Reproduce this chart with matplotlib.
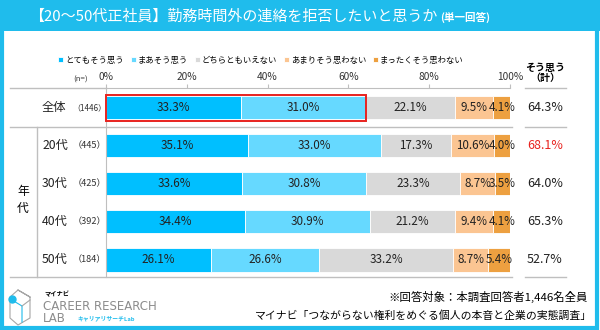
import matplotlib
matplotlib.use("Agg")
import matplotlib.pyplot as plt
from matplotlib.patches import Rectangle
from matplotlib.lines import Line2D
import numpy as np

plt.rcParams['font.family'] = ['Noto Sans CJK JP', 'DejaVu Sans']

# data
groups = ['全体', '20代', '30代', '40代', '50代']
counts = ['（1446）', '（445）', '（425）', '（392）', '（184）']
series_names = ['とてもそう思う', 'まあそう思う', 'どちらともいえない', 'あまりそう思わない', 'まったくそう思わない']
very = [33.3, 35.1, 33.6, 34.4, 26.1]
somewhat = [31.0, 33.0, 30.8, 30.9, 26.6]
neutral = [22.1, 17.3, 23.3, 21.2, 33.2]
not_much = [9.5, 10.6, 8.7, 9.4, 8.7]
not_at_all = [4.1, 4.0, 3.5, 4.1, 5.4]
agree_total = [64.3, 68.1, 64.0, 65.3, 52.7]
x_ticks = [0, 20, 40, 60, 80, 100]

colors = ['#00BFFF', '#66D9FF', '#D9D9D9', '#FBC592', '#EDA040']
frame_blue = '#1FBCEC'
grid_grey = '#BFBFBF'

W, H = 600, 330
fig = plt.figure(figsize=(6, 3.3), dpi=100)


def fx(px):
    return px / W


def fy(py):
    return 1 - py / H


# frame + title bar
fig.patches.append(Rectangle((fx(1.5), fy(328)), fx(595), 326 / H, transform=fig.transFigure,
                             fill=False, edgecolor=frame_blue, linewidth=3, zorder=0))
fig.patches.append(Rectangle((0, fy(31)), 1, 31 / H, transform=fig.transFigure,
                             facecolor=frame_blue, edgecolor='none', zorder=0))
t1 = fig.text(fx(29), fy(16), '【20～50代正社員】勤務時間外の連絡を拒否したいと思うか',
              color='white', fontsize=10.8, va='center', ha='left')
fig.canvas.draw()
bb = t1.get_window_extent()
fig.text(bb.x1 / W + fx(3), fy(17), '(単一回答)', color='white', fontsize=7.6,
         va='center', ha='left', fontweight='bold')

# main axes: x 0..100 from px 106 to 510, rows spaced 38px
top_px, bot_px = 88, 277
ax = fig.add_axes([fx(106), fy(bot_px), fx(510 - 106), (bot_px - top_px) / H])
y = np.arange(len(groups))
ax.set_ylim(4 + 17 / 38, -19.5 / 38)
ax.set_xlim(0, 100)

data = [very, somewhat, neutral, not_much, not_at_all]
left = np.zeros(len(groups))
for vals, col, name in zip(data, colors, series_names):
    vals = np.array(vals)
    ax.barh(y, vals, left=left, height=0.61, color=col, edgecolor='white',
            linewidth=0.6, label=name)
    for yi, (l, v) in enumerate(zip(left, vals)):
        ax.text(l + v / 2, yi, f'{v:.1f}%', ha='center', va='center', fontsize=8.4,
                color='#222222', clip_on=False)
    left += vals

# red highlight around 全体 agree part
ax.add_patch(Rectangle((0, -0.34), agree_total[0], 0.68, fill=False,
                       edgecolor='#E8231F', linewidth=1.4, zorder=5, clip_on=False))

for s in ['right', 'bottom']:
    ax.spines[s].set_visible(False)
ax.spines['top'].set_color(grid_grey)
ax.spines['left'].set_color(grid_grey)
ax.xaxis.tick_top()
ax.set_xticks(x_ticks)
ax.set_xticklabels([f'{t}%' for t in x_ticks], fontsize=7.3)
ax.tick_params(axis='x', length=3, color=grid_grey, pad=1, labelcolor='#333333')
ax.set_yticks([])

# legend
ax.legend(loc='center', bbox_to_anchor=(fx(261), fy(60)), bbox_transform=fig.transFigure,
          ncol=5, frameon=False, fontsize=6.0, handlelength=0.6, handleheight=0.6,
          handletextpad=0.25, columnspacing=0.8, borderaxespad=0)

# table lines
def hline(py, x0, x1):
    fig.add_artist(Line2D([fx(x0), fx(x1)], [fy(py), fy(py)], color=grid_grey, linewidth=1))

hline(88, 10, 106)
hline(88, 525, 566)
hline(127, 10, 512)
hline(127, 525, 566)
hline(277, 10, 512)
hline(277, 525, 566)
fig.add_artist(Line2D([fx(37), fx(37)], [fy(127), fy(277)], color=grid_grey, linewidth=1))

# row labels
fig.text(fx(81), fy(80), '(n=)', fontsize=5.6, ha='center', va='center', color='#333333')
fig.text(fx(545), fy(73), 'そう思う\n（計）', fontsize=7.2, ha='center', va='center',
         fontweight='bold', linespacing=1.1)
for i, (g, n, tot) in enumerate(zip(groups, counts, agree_total)):
    yy = ax.transData.transform((0, i))[1] / fig.dpi / 3.3
    gx = 54 if i == 0 else 55
    fig.text(fx(gx), yy, g, fontsize=8.8, ha='center', va='center', color='#222222')
    fig.text(fx(89), yy, n, fontsize=5.8 if len(n) > 5 else 6.6, ha='center', va='center',
             color='#333333')
    fig.text(fx(545), yy, f'{tot:.1f}%', fontsize=9, ha='center', va='center',
             color='#E8231F' if tot == max(agree_total) else '#222222')
fig.text(fx(23), fy(200), '年\n代', fontsize=8.5, ha='center', va='center', linespacing=1.3)

# footer
fig.text(fx(588), fy(297), '※回答対象：本調査回答者1,446名全員', fontsize=8.2, ha='right', va='center')
fig.text(fx(592), fy(316), 'マイナビ「つながらない権利をめぐる個人の本音と企業の実態調査」',
         fontsize=7.8, ha='right', va='center')

# logo
logo_grey = '#A6A6A6'
fig.add_artist(Line2D([fx(p) for p in [18, 30, 30, 18, 10, 10, 18, 30]],
                      [fy(p) for p in [290, 297, 318, 325, 318, 297, 290, 297]],
                      color=logo_grey, linewidth=0.8))
fig.add_artist(Line2D([fx(12), fx(22), fx(22)], [fy(300), fy(306), fy(322)],
                      color=frame_blue, linewidth=0.8))
fig.add_artist(Line2D([fx(22), fx(30)], [fy(306), fy(300)], color=logo_grey, linewidth=0.8))
fig.add_artist(Line2D([fx(12)], [fy(299)], marker='o', markersize=5, color=frame_blue))
fig.text(fx(44), fy(294), 'マイナビ', fontsize=4.5, fontweight='bold', ha='left', va='center')
fig.text(fx(43), fy(306), 'CAREER RESEARCH', fontsize=8.5, color='#8C8C8C', ha='left',
         va='center', family=['DejaVu Sans'])
fig.text(fx(43), fy(318), 'LAB', fontsize=8.5, color='#8C8C8C', ha='left', va='center',
         family=['DejaVu Sans'])
fig.text(fx(77), fy(318), 'キャリアリサーチLab', fontsize=4.2, color=frame_blue,
         fontweight='bold', ha='left', va='center')

fig.savefig('out.png', dpi=100)
